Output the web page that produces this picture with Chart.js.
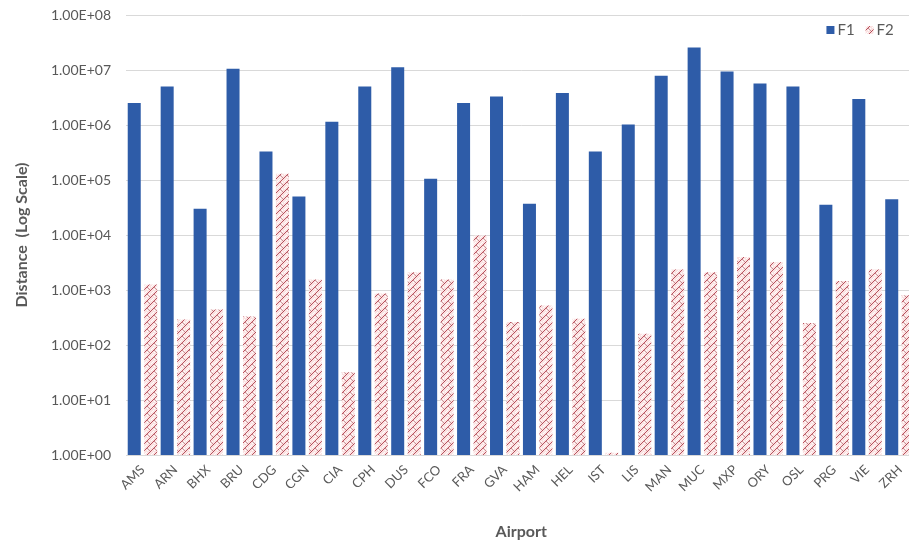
<!DOCTYPE html>
<html>
<head>
<meta charset="utf-8">
<script src="https://cdn.jsdelivr.net/npm/chart.js@4/dist/chart.umd.min.js"></script>
<style>
  html, body { margin: 0; padding: 0; background: #ffffff; overflow: hidden; }
  #wrap { position: relative; width: 918px; height: 545px; }
</style>
</head>
<body>
<div id="wrap"><canvas id="chart"></canvas></div>
<script>
// Airports and distances (log scale)
const airports = ['AMS','ARN','BHX','BRU','CDG','CGN','CIA','CPH','DUS','FCO','FRA','GVA',
                  'HAM','HEL','IST','LIS','MAN','MUC','MXP','ORY','OSL','PRG','VIE','ZRH'];
const f1Values = [2.5e6, 5.0e6, 3.0e4, 1.05e7, 3.3e5, 5.0e4, 1.15e6, 5.0e6, 1.12e7, 1.05e5, 2.5e6, 3.3e6,
                  3.7e4, 3.8e6, 3.3e5, 1.02e6, 7.9e6, 2.57e7, 9.4e6, 5.7e6, 5.0e6, 3.55e4, 2.96e6, 4.45e4];
const f2Values = [1260, 290, 440, 330, 1.3e5, 1550, 32, 860, 2100, 1550, 9800, 263,
                  525, 300, 1.1, 160, 2350, 2100, 4000, 3200, 250, 1450, 2350, 800];
const yTickValues = [1, 10, 100, 1e3, 1e4, 1e5, 1e6, 1e7, 1e8];
const seriesNames = ['F1', 'F2'];

const textColor = '#595959';
const gridColor = '#d9d9d9';
const f1Color = '#2e5ca8';

// Chain-like hatch fill for the second series
function makeHatch() {
  const c = document.createElement('canvas');
  c.width = 7; c.height = 7;
  const g = c.getContext('2d');
  g.fillStyle = '#fbe2e2';
  g.fillRect(0, 0, 7, 7);
  g.strokeStyle = 'rgba(168,48,62,0.8)';
  g.lineWidth = 1;
  g.beginPath();
  g.moveTo(-1, 8); g.lineTo(8, -1);
  g.stroke();
  g.strokeStyle = 'rgba(255,255,255,0.95)';
  g.beginPath();
  g.moveTo(-1, 4); g.lineTo(4, -1);
  g.moveTo(3, 8); g.lineTo(8, 3);
  g.stroke();
  g.strokeStyle = 'rgba(140,40,50,0.45)';
  g.beginPath();
  g.moveTo(0, 0); g.lineTo(3.5, 3.5);
  g.stroke();
  return g.createPattern(c, 'repeat');
}
const f2Fill = makeHatch();

function sciLabel(v) {
  const e = Math.round(Math.log10(v));
  const m = v / Math.pow(10, e);
  const sign = e < 0 ? '-' : '+';
  return m.toFixed(2) + 'E' + sign + String(Math.abs(e)).padStart(2, '0');
}

// Legend drawn inside the plot, top-right
const insideLegend = {
  id: 'insideLegend',
  afterDraw(chart) {
    const ctx = chart.ctx;
    const area = chart.chartArea;
    ctx.save();
    ctx.font = '15px Lato, "Open Sans", sans-serif';
    ctx.textBaseline = 'middle';
    ctx.textAlign = 'left';
    const y = area.top + 15;
    let x = area.right - 90;
    chart.data.datasets.forEach((ds) => {
      ctx.fillStyle = ds.backgroundColor;
      ctx.fillRect(x, y - 4, 8, 8);
      x += 11;
      ctx.fillStyle = textColor;
      ctx.fillText(ds.label, x, y);
      x += ctx.measureText(ds.label).width + 11;
    });
    ctx.restore();
  }
};

new Chart(document.getElementById('chart'), {
  type: 'bar',
  data: {
    labels: airports,
    datasets: [
      { label: seriesNames[0], data: f1Values, backgroundColor: f1Color },
      { label: seriesNames[1], data: f2Values, backgroundColor: f2Fill }
    ]
  },
  options: {
    responsive: true,
    maintainAspectRatio: false,
    animation: false,
    layout: { padding: { top: 15, left: 8, right: 0, bottom: 1 } },
    plugins: {
      legend: { display: false },
      tooltip: { enabled: false }
    },
    datasets: {
      bar: { categoryPercentage: 1.0, barPercentage: 0.79 }
    },
    scales: {
      x: {
        grid: { display: false, drawTicks: false },
        border: { display: true, color: gridColor, width: 1 },
        ticks: {
          color: textColor,
          font: { family: 'Lato, "Open Sans", sans-serif', size: 13 },
          minRotation: 45, maxRotation: 45, padding: 7,
          autoSkip: false
        },
        title: {
          display: true, text: 'Airport', color: textColor,
          font: { family: 'Lato, "Open Sans", sans-serif', size: 16, weight: 'bold' },
          padding: { top: 0, bottom: 3 }
        },
        afterFit(scale) { scale.height = 89; }
      },
      y: {
        type: 'logarithmic',
        min: 1, max: 1e8,
        grid: { color: gridColor, drawTicks: false, lineWidth: 1 },
        border: { display: false },
        afterBuildTicks(scale) {
          scale.ticks = yTickValues.map(v => ({ value: v, major: true }));
        },
        ticks: {
          color: textColor,
          font: { family: 'Lato, "Open Sans", sans-serif', size: 14 },
          padding: 15,
          callback: (v) => sciLabel(v)
        },
        title: {
          display: true, text: 'Distance  (Log Scale)', color: textColor,
          font: { family: 'Lato, "Open Sans", sans-serif', size: 16, weight: 'bold' },
          padding: { top: 4, bottom: 0 }
        },
        afterFit(scale) {
          scale.width = 118;
          scale.paddingTop = 0;
          scale.paddingBottom = 0;
        }
      }
    }
  },
  plugins: [insideLegend]
});
</script>
</body>
</html>
